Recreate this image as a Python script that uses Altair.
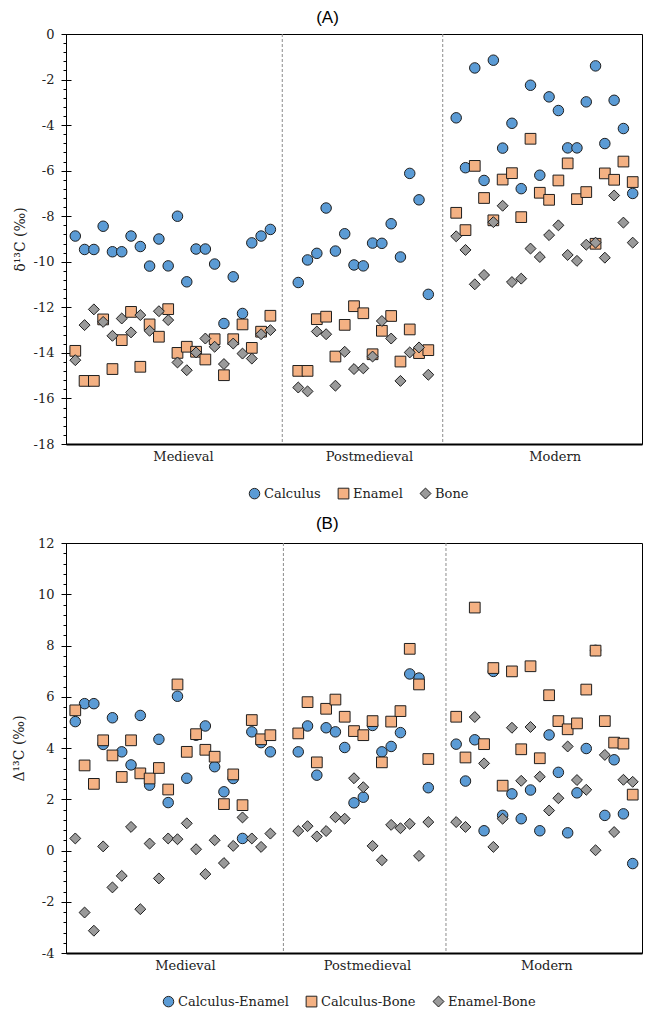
import altair as alt
import numpy as np
import pandas as pd

# ---------------- data ----------------
PERIODS = ["Medieval", "Postmedieval", "Modern"]
med_idx = list(range(1, 23))
post_idx = list(range(25, 40))
mod_idx = list(range(42, 62))

# Panel A: delta13C (per mil)
calc_med = [-8.87, -9.46, -9.46, -8.44, -9.56, -9.56, -8.87, -9.33, -10.19, -9.00, -10.18,
            -8.00, -10.88, -9.44, -9.44, -10.10, -12.71, -10.66, -12.27, -9.17, -8.87, -8.58]
enam_med = [-13.91, -15.23, -15.23, -12.53, -14.71, -13.44, -12.20, -14.61, -12.75, -13.29, -12.08,
            -14.00, -13.73, -13.95, -14.29, -13.40, -14.98, -13.40, -12.75, -13.78, -13.07, -12.37]
bone_med = [-14.32, -12.78, -12.09, -12.64, -13.25, -12.49, -13.10, -12.34, -13.03, -12.17, -12.56,
            -14.42, -14.76, -13.98, -13.37, -13.73, -14.49, -13.59, -14.03, -14.25, -13.18, -13.00]

calc_post = [-10.91, -9.92, -9.63, -7.64, -9.53, -8.77, -10.14, -10.18, -9.18, -9.19, -8.33,
             -9.79, -6.12, -7.28, -11.43]
enam_post = [-14.79, -14.79, -12.52, -12.41, -14.16, -12.77, -11.95, -12.26, -14.06, -13.03, -12.38,
             -14.38, -12.97, -14.01, -13.88]
bone_post = [-15.52, -15.69, -13.06, -13.18, -15.44, -13.95, -14.71, -14.68, -14.16, -12.60, -13.37,
             -15.23, -13.98, -13.76, -14.96]

calc_mod = [-3.68, -5.87, -1.49, -6.43, -1.15, -5.01, -3.92, -6.79, -2.25, -6.20, -2.76, -3.36,
            -5.00, -5.00, -2.98, -1.40, -4.81, -2.91, -4.15, -7.00]
enam_mod = [-7.85, -8.61, -5.79, -7.20, -8.18, -6.39, -6.11, -8.04, -4.60, -6.97, -7.28, -6.43,
            -5.68, -7.25, -6.94, -9.21, -6.12, -6.40, -5.60, -6.50]
bone_mod = [-8.88, -9.48, -10.99, -10.58, -8.26, -7.54, -10.89, -10.74, -9.42, -9.79, -8.83, -8.40,
            -9.70, -9.96, -9.25, -9.16, -9.82, -7.09, -8.28, -9.16]

# Panel B: Delta13C (per mil)
ce_med = [5.03, 5.73, 5.73, 4.14, 5.18, 3.85, 3.34, 5.27, 2.55, 4.34, 1.87,
          6.02, 2.82, 4.50, 4.86, 3.27, 2.29, 2.81, 0.47, 4.63, 4.21, 3.85]
cb_med = [5.47, 3.32, 2.60, 4.30, 3.71, 2.87, 4.30, 3.01, 2.81, 3.22, 2.38,
          6.48, 3.85, 4.54, 3.93, 3.66, 1.81, 2.97, 1.77, 5.09, 4.34, 4.50]
eb_med = [0.47, -2.42, -3.13, 0.16, -1.44, -0.99, 0.92, -2.29, 0.27, -1.09, 0.47,
          0.44, 1.06, 0.05, -0.92, 0.40, -0.49, 0.18, 1.29, 0.47, 0.14, 0.66]

ce_post = [3.85, 4.86, 2.94, 4.79, 4.63, 4.02, 1.86, 2.08, 4.88, 3.85, 4.06, 4.60, 6.89, 6.73, 2.45]
cb_post = [4.57, 5.79, 3.44, 5.53, 5.89, 5.22, 4.66, 4.50, 5.05, 3.44, 5.03, 5.44, 7.87, 6.48, 3.57]
eb_post = [0.76, 0.95, 0.55, 0.76, 1.30, 1.24, 2.82, 2.47, 0.18, -0.38, 1.00, 0.87, 1.04, -0.21, 1.11]

ce_mod = [4.15, 2.71, 4.32, 0.77, 6.99, 1.37, 2.21, 1.24, 2.36, 0.77, 4.51, 3.05, 0.69, 2.25,
          3.98, 7.81, 1.37, 3.54, 1.43, -0.51]
cb_mod = [5.22, 3.63, 9.48, 4.15, 7.12, 2.53, 6.99, 3.95, 7.19, 3.60, 6.06, 5.05, 4.73, 4.96,
          6.28, 7.80, 5.05, 4.21, 4.17, 2.18]
eb_mod = [1.11, 0.92, 5.21, 3.40, 0.14, 1.24, 4.79, 2.72, 4.82, 2.88, 1.56, 2.04, 4.06, 2.75,
          2.37, 0.01, 3.73, 0.72, 2.76, 2.68]

SERIES_A = ["Calculus", "Enamel", "Bone"]
SERIES_B = ["Calculus-Enamel", "Calculus-Bone", "Enamel-Bone"]

# ---------------- styles ----------------
FILLS = ["#5B9BD5", "#F4B183", "#9A9A9A"]
SHAPES = ["circle", "square", "diamond"]
SIZES = [110, 120, 80]
SERIF = "DejaVu Serif"
W, H = 576, 410


def build_df(series, groups):
    rows = []
    for k, name in enumerate(series):
        for idx, vals in zip([med_idx, post_idx, mod_idx], groups[k]):
            for i, v in zip(idx, vals):
                rows.append({"idx": i, "value": v, "series": name, "ord": k})
    return pd.DataFrame(rows)


df_a = build_df(SERIES_A, [[calc_med, calc_post, calc_mod],
                           [enam_med, enam_post, enam_mod],
                           [bone_med, bone_post, bone_mod]])
df_b = build_df(SERIES_B, [[ce_med, ce_post, ce_mod],
                           [cb_med, cb_post, cb_mod],
                           [eb_med, eb_post, eb_mod]])


def panel(df, series, title, ytitle, ydom, seps, label_pos, legend_x, legend_y, title_pad,
          title_off):
    xscale = alt.Scale(domain=[0, 62], nice=False, zero=False)
    yscale = alt.Scale(domain=ydom, nice=False, zero=False)
    major = list(range(ydom[0], ydom[1] + 1, 2))
    minor = [round(v, 2) for v in np.arange(ydom[0], ydom[1] + 0.001, 0.4)]
    label_expr = (f"datum.value < 22 ? '{PERIODS[0]}' : "
                  f"datum.value < 42 ? '{PERIODS[1]}' : '{PERIODS[2]}'")
    xaxis = alt.Axis(values=label_pos, labelExpr=label_expr, ticks=False, grid=False,
                     title=None, domainColor="black", domainWidth=2,
                     labelPadding=6, labelFont=SERIF, labelFontSize=13, labelColor="#222")
    leg = alt.Legend(title=None, orient="none", legendX=legend_x, legendY=legend_y,
                     direction="horizontal", labelFont=SERIF, labelFontSize=13,
                     labelColor="#222", symbolSize=80, symbolStrokeColor="#222",
                     symbolStrokeWidth=1, columnPadding=15, labelOffset=3, padding=0)

    sep_df = pd.DataFrame({"sx": seps})
    rules = alt.Chart(sep_df).mark_rule(color="#8c8c8c", strokeDash=[3, 2],
                                        strokeWidth=1).encode(
        x=alt.X("sx:Q", scale=xscale, axis=xaxis))

    pts = alt.Chart(df).mark_point(filled=True, opacity=1, stroke="#1e1e1e",
                                   strokeWidth=1).encode(
        x=alt.X("idx:Q", scale=xscale, axis=xaxis),
        y=alt.Y("value:Q", scale=yscale,
                axis=alt.Axis(values=major, orient="left", tickSize=5, tickColor="black",
                              grid=False, domainColor="black", labelFont=SERIF,
                              labelExpr="'' + datum.value",
                              labelFontSize=13, labelColor="#222", labelPadding=7,
                              title=ytitle, titleFont=SERIF, titleFontSize=14,
                              titleFontWeight="normal", titleColor="#222",
                              titlePadding=title_pad)),
        color=alt.Color("series:N", scale=alt.Scale(domain=series, range=FILLS), legend=leg),
        shape=alt.Shape("series:N", scale=alt.Scale(domain=series, range=SHAPES), legend=leg),
        size=alt.Size("series:N", scale=alt.Scale(domain=series, range=SIZES), legend=None),
        order=alt.Order("ord:Q"),
    )

    tick_df = pd.DataFrame({"v": ydom})
    minor_layer = alt.Chart(tick_df).mark_point(opacity=0).encode(
        y=alt.Y("v:Q", scale=yscale,
                axis=alt.Axis(values=minor, orient="left", tickSize=3, tickColor="black",
                              labels=False, domain=False, grid=False, title=None)))
    inner_layer = alt.Chart(tick_df).mark_point(opacity=0).encode(
        y=alt.Y("v:Q", scale=yscale,
                axis=alt.Axis(values=major, orient="right", offset=-W, tickSize=5,
                              tickColor="black", labels=False, domain=False, grid=False,
                              title=None)))

    return alt.layer(rules, pts, minor_layer, inner_layer).resolve_axis(
        y="independent").properties(
        width=W, height=H,
        view=alt.ViewBackground(stroke="black", strokeWidth=1),
        title=alt.TitleParams(title, font="Liberation Sans", fontSize=17, fontWeight="normal",
                              anchor="middle", frame="bounds", offset=title_off,
                              color="black"))


pa = panel(df_a, SERIES_A, "(A)", "δ¹³C (‰)", [-18, 0], [23.28, 40.55],
           [12.6, 32.6, 52.6], 182, 453, 6, 1)
pb = panel(df_b, SERIES_B, "(B)", "Δ¹³C (‰)", [-4, 12], [23.4, 40.9],
           [12.8, 32.4, 51.7], 96, 452, 11, 4)

chart = alt.vconcat(pa, pb, spacing=12).resolve_scale(
    color="independent", shape="independent", size="independent"
).resolve_legend(color="independent", shape="independent").properties(
    padding={"left": 3, "top": 0, "right": 5, "bottom": 0}
).configure_view(stroke="black", strokeWidth=1).configure(background="white")

chart.save("out.html", embed_options={"renderer": "svg", "actions": False})
